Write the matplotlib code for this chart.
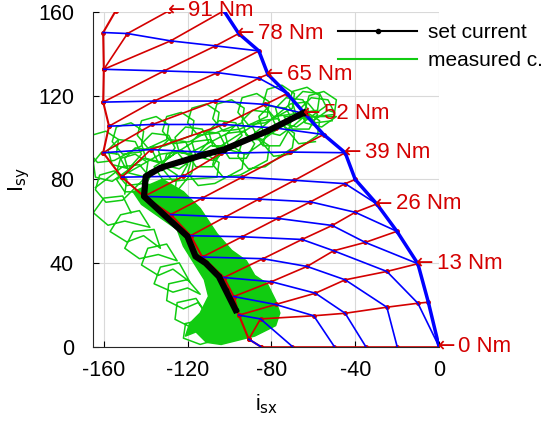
import numpy as np
import matplotlib.pyplot as plt

plt.rcParams['font.family'] = ['Liberation Sans', 'DejaVu Sans']
plt.rcParams['axes.unicode_minus'] = False

RED = '#d40000'
BLUE = '#0000ff'
GREEN = '#11cc11'

# torque levels of the red lines
torque = [0, 6.5, 13, 19.5, 26, 32.5, 39, 45.5, 52, 58.5, 65, 71.5, 78, 84.5, 91]

# red lines: constant torque, points from the left border to the right border
red_lines = [
    [(-85.2, 0), (-70, 0), (-50, 0), (-35, 0), (-20, 0), (0, 0)],
    [(-90.8, 3.5), (-85.2, 13.2), (-59.8, 14.7), (-44.8, 15.9), (-24.9, 18.8), (-10.1, 20.7), (-5.1, 21.2)],
    [(-95.5, 15), (-78, 20.1), (-59, 25.5), (-44.8, 31.9), (-24.9, 35.9), (-10.1, 39.6)],
    [(-98, 23.9), (-80, 31), (-63, 38.3), (-50.3, 45.8), (-35.2, 49.8), (-20.1, 55.1)],
    [(-102.7, 33), (-84, 42), (-65.4, 51.2), (-51, 57.9), (-40, 64.2), (-29.7, 68.2)],
    [(-113, 42.8), (-94, 52.5), (-77, 61.3), (-61.4, 69.2), (-44.8, 77.9), (-40, 79.9)],
    [(-118.6, 53), (-102, 62), (-86, 70.5), (-69, 79.5), (-44.8, 92.7)],
    [(-128.1, 63.1), (-113, 71), (-94, 81), (-71, 93), (-55.1, 101.4)],
    [(-140.8, 71.8), (-122, 81.5), (-104, 92.5), (-78, 104.5), (-64.1, 111.4)],
    [(-151.4, 81), (-137.6, 94.2), (-102.7, 106.2), (-82.9, 115.8), (-72.5, 121)],
    [(-160.3, 92.7), (-136.8, 106.2), (-106.7, 117.4), (-86, 128.4), (-81.7, 130.2)],
    [(-157.5, 105.4), (-136, 117.4), (-105.8, 131), (-86, 141.4)],
    [(-160.3, 116.9), (-131.3, 131.8), (-106.7, 143.8), (-95.6, 149.7)],
    [(-160, 132.6), (-128.1, 146.2), (-102.7, 160.6)],
    [(-160, 132.6), (-148.7, 149.7), (-128.9, 160.6)],
]

# left border of the map (bottom -> top)
left_x = [-85.2, -90.8, -95.5, -98, -102.7, -113, -118.6, -128.1, -140.8, -151.4,
          -160.3, -157.5, -160.3, -160, -160.3, -154.3]
left_y = [0, 3.5, 15, 23.9, 33, 42.8, 53, 63.1, 71.8, 81,
          92.7, 105.4, 116.9, 132.6, 150.2, 160.6]

# blue lines: start on the left border, then (red line, point) pairs
blue_start = [15, 14, 13, 12, 11, 10, 9, 8, 7, 6, 5, 4, 3, 2, 1]
blue_path = [
    [(14, 2), (13, 2)],
    [(14, 1), (13, 1), (12, 2), (11, 3)],
    [(12, 1), (11, 2), (10, 3), (9, 4)],
    [(11, 1), (10, 2), (9, 3), (8, 4)],
    [(10, 1), (9, 2), (8, 3), (7, 4)],
    [(9, 1), (8, 2), (7, 3), (6, 4)],
    [(8, 1), (7, 2), (6, 3), (5, 4), (4, 5)],
    [(7, 1), (6, 2), (5, 3), (4, 4), (3, 5)],
    [(6, 1), (5, 2), (4, 3), (3, 4), (2, 5)],
    [(5, 1), (4, 2), (3, 3), (2, 4), (1, 5), (0, 5)],
    [(4, 1), (3, 2), (2, 3), (1, 4), (0, 4)],
    [(3, 1), (2, 2), (1, 3), (0, 3)],
    [(2, 1), (1, 2), (0, 2)],
    [(1, 1), (0, 1)],
    [(0, 0)],
]

# set current trajectory
set_x = [-97.1, -101.9, -105.1, -111.4, -116.2, -120.1, -140.8, -140, -132.9, -112.2, -102.7, -82, -64.6]
set_y = [17.5, 27.1, 33.5, 39.9, 43.1, 52.7, 71.8, 81.4, 85.5, 91.8, 94.2, 103, 111.8]

# measured current: dense core around the lower set current
core_x = [-146, -142, -125, -122, -117, -112, -110, -114, -119, -121, -116, -111, -104, -96, -88,
          -82, -78, -76, -78, -82, -88, -92, -99, -106, -110, -114, -122, -132]
core_y = [74, 68, 56, 48, 40, 32, 24, 16, 11, 5, 7, 2, 1, 3, 5,
          8, 10, 16, 22, 30, 34, 41, 46, 54, 60, 66, 74, 80]

# measured current: loops along the upper part of the set current
loops_x = [-150, -153, -161, -165, -164, -156, -149,
           -142, -145, -153, -158, -156, -148, -141,
           -134, -137, -145, -150, -148, -140, -133,
           -126, -129, -137, -142, -140, -132, -125,
           -118, -121, -129, -134, -132, -124, -117,
           -110, -113, -121, -126, -124, -116, -109,
           -102, -105, -113, -118, -116, -108, -101,
           -94, -97, -105, -110, -108, -100, -93,
           -86, -89, -97, -102, -100, -92, -85,
           -78, -81, -89, -94, -92, -84, -77,
           -70, -73, -81, -86, -84, -76, -69,
           -62, -65, -73, -78, -76, -68, -61,
           -54, -57, -65, -70, -68, -60, -53,
           -50, -53, -61, -66, -64, -56, -49,
           -74, -70, -62, -58, -63, -71,
           -88, -84, -76, -72, -77, -85,
           -104, -100, -92, -88, -93, -101,
           -120, -116, -108, -104, -109, -117,
           -136, -132, -124, -120, -125, -133,
           -154, -150, -142, -138, -143, -151, -164]
loops_y = [86, 92, 93, 88, 81, 79, 84,
           92, 98, 99, 94, 87, 85, 90,
           88, 94, 95, 90, 83, 81, 86,
           95, 101, 102, 97, 90, 88, 93,
           92, 98, 99, 94, 87, 85, 90,
           98, 104, 105, 100, 93, 91, 96,
           96, 102, 103, 98, 91, 89, 94,
           101, 107, 108, 103, 96, 94, 99,
           99, 105, 106, 101, 94, 92, 97,
           106, 112, 113, 108, 101, 99, 104,
           108, 114, 115, 110, 103, 101, 106,
           112, 118, 119, 114, 107, 105, 110,
           115, 121, 122, 117, 110, 108, 113,
           112, 118, 119, 114, 107, 105, 110,
           110, 104, 104, 111, 117, 116,
           102, 96, 96, 103, 109, 108,
           96, 90, 90, 97, 103, 102,
           92, 86, 86, 93, 99, 98,
           86, 80, 80, 87, 93, 92,
           80, 74, 74, 81, 87, 86, 76]

# second pass of loops, above the set current
upper_x = [-154, -153, -159, -166, -168, -163, -155,
           -142, -141, -147, -154, -156, -151, -143,
           -130, -129, -135, -142, -144, -139, -131,
           -118, -117, -123, -130, -132, -127, -119,
           -106, -105, -111, -118, -120, -115, -107,
           -94, -93, -99, -106, -108, -103, -95,
           -82, -81, -87, -94, -96, -91, -83,
           -70, -69, -75, -82, -84, -79, -71,
           -58, -57, -63, -70, -72, -67, -59,
           -50, -49, -55, -62, -64, -59, -51]
upper_y = [92, 99, 103, 101, 94, 88, 89,
           96, 103, 107, 105, 98, 92, 93,
           99, 106, 110, 108, 101, 95, 96,
           101, 108, 112, 110, 103, 97, 98,
           105, 112, 116, 114, 107, 101, 102,
           107, 114, 118, 116, 109, 103, 104,
           110, 117, 121, 119, 112, 106, 107,
           114, 121, 125, 123, 116, 110, 111,
           113, 120, 124, 122, 115, 109, 110,
           111, 118, 122, 120, 113, 107, 108]

# loops below the upper part of the set current
lower_x = [-150, -149, -155, -162, -164, -159, -151,
           -140, -139, -145, -152, -154, -149, -141,
           -126, -125, -131, -138, -140, -135, -127,
           -118, -117, -123, -130, -132, -127, -119,
           -106, -105, -111, -118, -120, -115, -107,
           -94, -93, -99, -106, -108, -103, -95,
           -82, -81, -87, -94, -96, -91, -83,
           -70, -69, -75, -82, -84, -79, -71,
           -58, -57, -63, -70, -72, -67, -59]
lower_y = [73, 80, 84, 82, 75, 69, 70,
           81, 88, 92, 90, 83, 77, 78,
           75, 82, 86, 84, 77, 71, 72,
           83, 90, 94, 92, 85, 79, 80,
           81, 88, 92, 90, 83, 77, 78,
           85, 92, 96, 94, 87, 81, 82,
           89, 96, 100, 98, 91, 85, 86,
           95, 102, 106, 104, 97, 91, 92,
           101, 108, 112, 110, 103, 97, 98]

# loops left of the lower part of the set current
fringe_x = [-147, -151, -160, -165, -158, -150,
            -138, -143, -152, -157, -149, -141,
            -133, -136, -146, -150, -143, -134,
            -125, -130, -139, -142, -134, -127,
            -119, -124, -133, -136, -127, -120,
            -114, -120, -129, -130, -122, -115,
            -110, -116, -125, -126, -118, -111,
            -106, -112, -121, -122, -114, -107]
fringe_y = [64, 72, 71, 64, 58, 60,
            57, 65, 63, 55, 50, 53,
            47, 56, 55, 47, 42, 44,
            41, 49, 47, 39, 34, 37,
            31, 40, 38, 30, 26, 28,
            25, 32, 30, 22, 18, 21,
            14, 23, 21, 13, 9, 12,
            6, 13, 11, 4, 1, 3]

labels_idx = [0, 2, 4, 6, 8, 10, 12, 14]

fig = plt.figure(figsize=(5.42, 4.26), dpi=100)
ax = fig.add_axes([0.1722, 0.1866, 0.6378, 0.7852])

# measured current
ax.fill(core_x, core_y, color=GREEN, lw=0)
ax.plot(core_x + [core_x[0]], core_y + [core_y[0]], color=GREEN, lw=1.1)
for gx, gy in [(loops_x, loops_y), (upper_x, upper_y), (lower_x, lower_y), (fringe_x, fringe_y)]:
    ax.plot(gx, gy, color=GREEN, lw=1.1)

# constant torque lines
for pts in red_lines:
    xs, ys = zip(*pts)
    ax.plot(xs, ys, color=RED, lw=1.2, marker='o', ms=2.5)
ax.plot(left_x, left_y, color=RED, lw=1.5, marker='o', ms=2.5)

# blue lines
for s, path in zip(blue_start, blue_path):
    xs = [left_x[s]] + [red_lines[k][j][0] for k, j in path]
    ys = [left_y[s]] + [red_lines[k][j][1] for k, j in path]
    ax.plot(xs, ys, color=BLUE, lw=1.2)
right_x = [red_lines[k][-1][0] for k in range(14)]
right_y = [red_lines[k][-1][1] for k in range(14)]
ax.plot(right_x, right_y, color=BLUE, lw=2.5)

ax.plot(set_x, set_y, color='black', lw=4.5, marker='.', ms=6)

for k in labels_idx:
    px, py = red_lines[k][-1]
    ax.annotate('\u2190', (px, py), xytext=(-1, 0), textcoords='offset points',
                family='DejaVu Sans', color=RED, fontsize=15, va='center', ha='left',
                annotation_clip=False)
    ax.annotate('%d Nm' % torque[k], (px, py), xytext=(14, 0), textcoords='offset points',
                color=RED, fontsize=16, va='center', ha='left', annotation_clip=False)

ax.set_xlim(-165, 0)
ax.set_ylim(0, 160)
ax.set_xticks([-160, -120, -80, -40, 0])
ax.set_yticks([0, 40, 80, 120, 160])
ax.grid(True, color='#d9d9d9', lw=0.8)
ax.set_axisbelow(True)
ax.tick_params(direction='in', labelsize=15.5, length=4)
ax.tick_params(axis='x', pad=10)
ax.tick_params(axis='y', pad=14)
for s in ['top', 'right']:
    ax.spines[s].set_visible(False)
for s in ['left', 'bottom']:
    ax.spines[s].set_color('#262626')
ax.set_xlabel(r'i$_{\rm sx}$', fontsize=15.5, labelpad=8)
ax.set_ylabel(r'I$_{\rm sy}$', fontsize=15.5, labelpad=4)

h1, = ax.plot([], [], color='black', marker='.', ms=6, lw=1.5)
h2, = ax.plot([], [], color=GREEN, lw=1.5)
fig.legend([h1, h2], ['set current', 'measured c.'], loc='upper left',
           bbox_to_anchor=(0.589, 0.99), frameon=False, fontsize=15, handlelength=3.8,
           labelspacing=0.45, handletextpad=0.5)

fig.savefig('out.png', dpi=100)
